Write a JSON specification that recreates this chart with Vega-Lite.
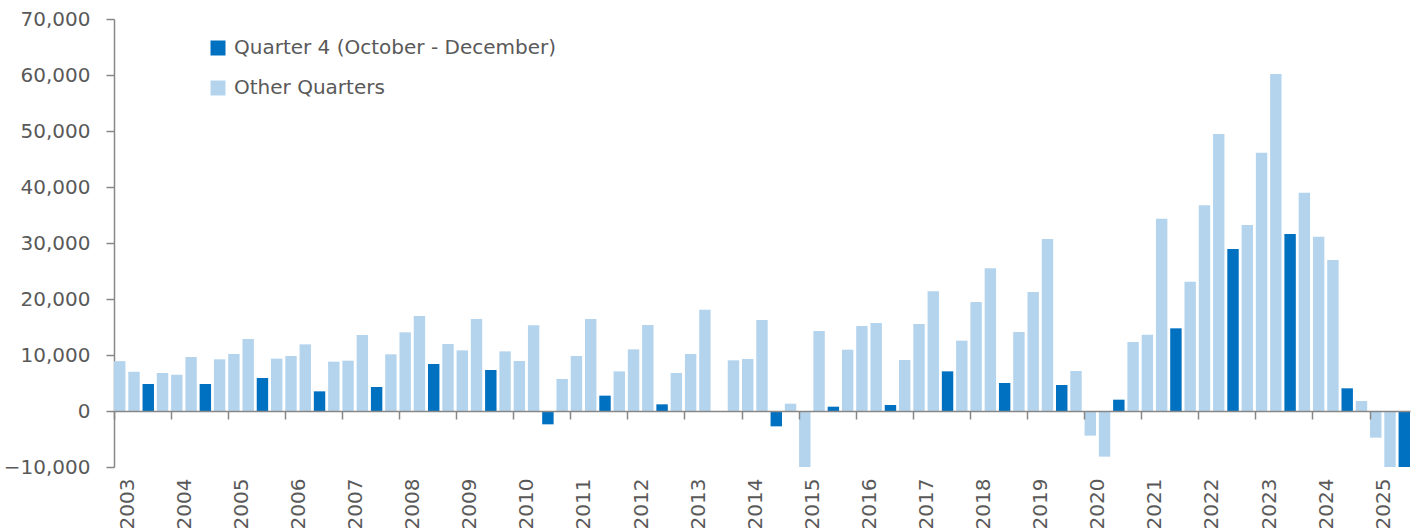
{
  "$schema": "https://vega.github.io/schema/vega-lite/v6.json",
  "width": 1296,
  "height": 448,
  "autosize": {"type": "none"},
  "padding": {"left": 114, "top": 19, "right": 4, "bottom": 64},
  "background": "white",
  "config": {
    "view": {"stroke": null},
    "font": "DejaVu Sans",
    "axis": {"labelFont": "DejaVu Sans", "labelColor": "#595959", "domainColor": "#878787", "tickColor": "#878787", "domainWidth": 1.5, "tickWidth": 1.5, "grid": false}
  },
  "data": {"values": [
    {"q": "2003 Q2", "v": 8900, "s": "Other Quarters"},
    {"q": "2003 Q3", "v": 7000, "s": "Other Quarters"},
    {"q": "2003 Q4", "v": 4820, "s": "Quarter 4 (October - December)"},
    {"q": "2004 Q1", "v": 6790, "s": "Other Quarters"},
    {"q": "2004 Q2", "v": 6490, "s": "Other Quarters"},
    {"q": "2004 Q3", "v": 9640, "s": "Other Quarters"},
    {"q": "2004 Q4", "v": 4820, "s": "Quarter 4 (October - December)"},
    {"q": "2005 Q1", "v": 9230, "s": "Other Quarters"},
    {"q": "2005 Q2", "v": 10180, "s": "Other Quarters"},
    {"q": "2005 Q3", "v": 12860, "s": "Other Quarters"},
    {"q": "2005 Q4", "v": 5890, "s": "Quarter 4 (October - December)"},
    {"q": "2006 Q1", "v": 9350, "s": "Other Quarters"},
    {"q": "2006 Q2", "v": 9820, "s": "Other Quarters"},
    {"q": "2006 Q3", "v": 11900, "s": "Other Quarters"},
    {"q": "2006 Q4", "v": 3510, "s": "Quarter 4 (October - December)"},
    {"q": "2007 Q1", "v": 8810, "s": "Other Quarters"},
    {"q": "2007 Q2", "v": 8990, "s": "Other Quarters"},
    {"q": "2007 Q3", "v": 13570, "s": "Other Quarters"},
    {"q": "2007 Q4", "v": 4290, "s": "Quarter 4 (October - December)"},
    {"q": "2008 Q1", "v": 10120, "s": "Other Quarters"},
    {"q": "2008 Q2", "v": 14050, "s": "Other Quarters"},
    {"q": "2008 Q3", "v": 16960, "s": "Other Quarters"},
    {"q": "2008 Q4", "v": 8390, "s": "Quarter 4 (October - December)"},
    {"q": "2009 Q1", "v": 11960, "s": "Other Quarters"},
    {"q": "2009 Q2", "v": 10830, "s": "Other Quarters"},
    {"q": "2009 Q3", "v": 16430, "s": "Other Quarters"},
    {"q": "2009 Q4", "v": 7320, "s": "Quarter 4 (October - December)"},
    {"q": "2010 Q1", "v": 10650, "s": "Other Quarters"},
    {"q": "2010 Q2", "v": 8930, "s": "Other Quarters"},
    {"q": "2010 Q3", "v": 15300, "s": "Other Quarters"},
    {"q": "2010 Q4", "v": -2380, "s": "Quarter 4 (October - December)"},
    {"q": "2011 Q1", "v": 5710, "s": "Other Quarters"},
    {"q": "2011 Q2", "v": 9820, "s": "Other Quarters"},
    {"q": "2011 Q3", "v": 16430, "s": "Other Quarters"},
    {"q": "2011 Q4", "v": 2740, "s": "Quarter 4 (October - December)"},
    {"q": "2012 Q1", "v": 7080, "s": "Other Quarters"},
    {"q": "2012 Q2", "v": 11010, "s": "Other Quarters"},
    {"q": "2012 Q3", "v": 15360, "s": "Other Quarters"},
    {"q": "2012 Q4", "v": 1190, "s": "Quarter 4 (October - December)"},
    {"q": "2013 Q1", "v": 6790, "s": "Other Quarters"},
    {"q": "2013 Q2", "v": 10180, "s": "Other Quarters"},
    {"q": "2013 Q3", "v": 18100, "s": "Other Quarters"},
    {"q": "2013 Q4", "v": 0, "s": "Quarter 4 (October - December)"},
    {"q": "2014 Q1", "v": 9050, "s": "Other Quarters"},
    {"q": "2014 Q2", "v": 9290, "s": "Other Quarters"},
    {"q": "2014 Q3", "v": 16250, "s": "Other Quarters"},
    {"q": "2014 Q4", "v": -2740, "s": "Quarter 4 (October - December)"},
    {"q": "2015 Q1", "v": 1310, "s": "Other Quarters"},
    {"q": "2015 Q2", "v": -10800, "s": "Other Quarters"},
    {"q": "2015 Q3", "v": 14290, "s": "Other Quarters"},
    {"q": "2015 Q4", "v": 770, "s": "Quarter 4 (October - December)"},
    {"q": "2016 Q1", "v": 10950, "s": "Other Quarters"},
    {"q": "2016 Q2", "v": 15180, "s": "Other Quarters"},
    {"q": "2016 Q3", "v": 15710, "s": "Other Quarters"},
    {"q": "2016 Q4", "v": 1070, "s": "Quarter 4 (October - December)"},
    {"q": "2017 Q1", "v": 9110, "s": "Other Quarters"},
    {"q": "2017 Q2", "v": 15540, "s": "Other Quarters"},
    {"q": "2017 Q3", "v": 21370, "s": "Other Quarters"},
    {"q": "2017 Q4", "v": 7080, "s": "Quarter 4 (October - December)"},
    {"q": "2018 Q1", "v": 12560, "s": "Other Quarters"},
    {"q": "2018 Q2", "v": 19460, "s": "Other Quarters"},
    {"q": "2018 Q3", "v": 25480, "s": "Other Quarters"},
    {"q": "2018 Q4", "v": 5000, "s": "Quarter 4 (October - December)"},
    {"q": "2019 Q1", "v": 14110, "s": "Other Quarters"},
    {"q": "2019 Q2", "v": 21250, "s": "Other Quarters"},
    {"q": "2019 Q3", "v": 30710, "s": "Other Quarters"},
    {"q": "2019 Q4", "v": 4640, "s": "Quarter 4 (October - December)"},
    {"q": "2020 Q1", "v": 7140, "s": "Other Quarters"},
    {"q": "2020 Q2", "v": -4400, "s": "Other Quarters"},
    {"q": "2020 Q3", "v": -8150, "s": "Other Quarters"},
    {"q": "2020 Q4", "v": 2020, "s": "Quarter 4 (October - December)"},
    {"q": "2021 Q1", "v": 12320, "s": "Other Quarters"},
    {"q": "2021 Q2", "v": 13630, "s": "Other Quarters"},
    {"q": "2021 Q3", "v": 34320, "s": "Other Quarters"},
    {"q": "2021 Q4", "v": 14760, "s": "Quarter 4 (October - December)"},
    {"q": "2022 Q1", "v": 23100, "s": "Other Quarters"},
    {"q": "2022 Q2", "v": 36730, "s": "Other Quarters"},
    {"q": "2022 Q3", "v": 49460, "s": "Other Quarters"},
    {"q": "2022 Q4", "v": 28930, "s": "Quarter 4 (October - December)"},
    {"q": "2023 Q1", "v": 33210, "s": "Other Quarters"},
    {"q": "2023 Q2", "v": 46130, "s": "Other Quarters"},
    {"q": "2023 Q3", "v": 60180, "s": "Other Quarters"},
    {"q": "2023 Q4", "v": 31610, "s": "Quarter 4 (October - December)"},
    {"q": "2024 Q1", "v": 38990, "s": "Other Quarters"},
    {"q": "2024 Q2", "v": 31130, "s": "Other Quarters"},
    {"q": "2024 Q3", "v": 26960, "s": "Other Quarters"},
    {"q": "2024 Q4", "v": 4050, "s": "Quarter 4 (October - December)"},
    {"q": "2025 Q1", "v": 1790, "s": "Other Quarters"},
    {"q": "2025 Q2", "v": -4760, "s": "Other Quarters"},
    {"q": "2025 Q3", "v": -10800, "s": "Other Quarters"},
    {"q": "2025 Q4", "v": -10800, "s": "Quarter 4 (October - December)"}
  ]},
  "mark": {"type": "bar", "clip": true},
  "encoding": {
    "x": {
      "field": "q", "type": "ordinal", "sort": null,
      "scale": {"paddingInner": 0.2, "paddingOuter": 0},
      "axis": {
        "title": null, "orient": "bottom", "offset": -56,
        "values": ["2003 Q2","2004 Q2","2005 Q2","2006 Q2","2007 Q2","2008 Q2","2009 Q2","2010 Q2","2011 Q2","2012 Q2","2013 Q2","2014 Q2","2015 Q2","2016 Q2","2017 Q2","2018 Q2","2019 Q2","2020 Q2","2021 Q2","2022 Q2","2023 Q2","2024 Q2","2025 Q2"],
        "labelExpr": "substring(datum.value, 0, 4)",
        "bandPosition": 0, "labelOffset": 8,
        "labelAngle": -90, "labelFontSize": 20, "labelPadding": 59,
        "tickSize": 8, "zindex": 1, "labelOverlap": false
      }
    },
    "y": {
      "field": "v", "type": "quantitative",
      "scale": {"domain": [-10000, 70000], "nice": false, "zero": false},
      "axis": {"title": null, "values": [-10000,0,10000,20000,30000,40000,50000,60000,70000], "format": ",.0f", "labelFontSize": 20, "tickSize": 8, "labelPadding": 16}
    },
    "color": {
      "field": "s", "type": "nominal",
      "scale": {"domain": ["Quarter 4 (October - December)", "Other Quarters"], "range": ["#0070c0", "#b4d4ee"]},
      "legend": {
        "title": null, "orient": "none", "legendX": 94, "legendY": 19,
        "symbolType": "square", "symbolSize": 225, "symbolStrokeWidth": 0,
        "labelFontSize": 20, "labelColor": "#595959", "labelFont": "DejaVu Sans",
        "labelLimit": 600, "rowPadding": 20, "labelOffset": 6, "padding": 0
      }
    }
  }
}
